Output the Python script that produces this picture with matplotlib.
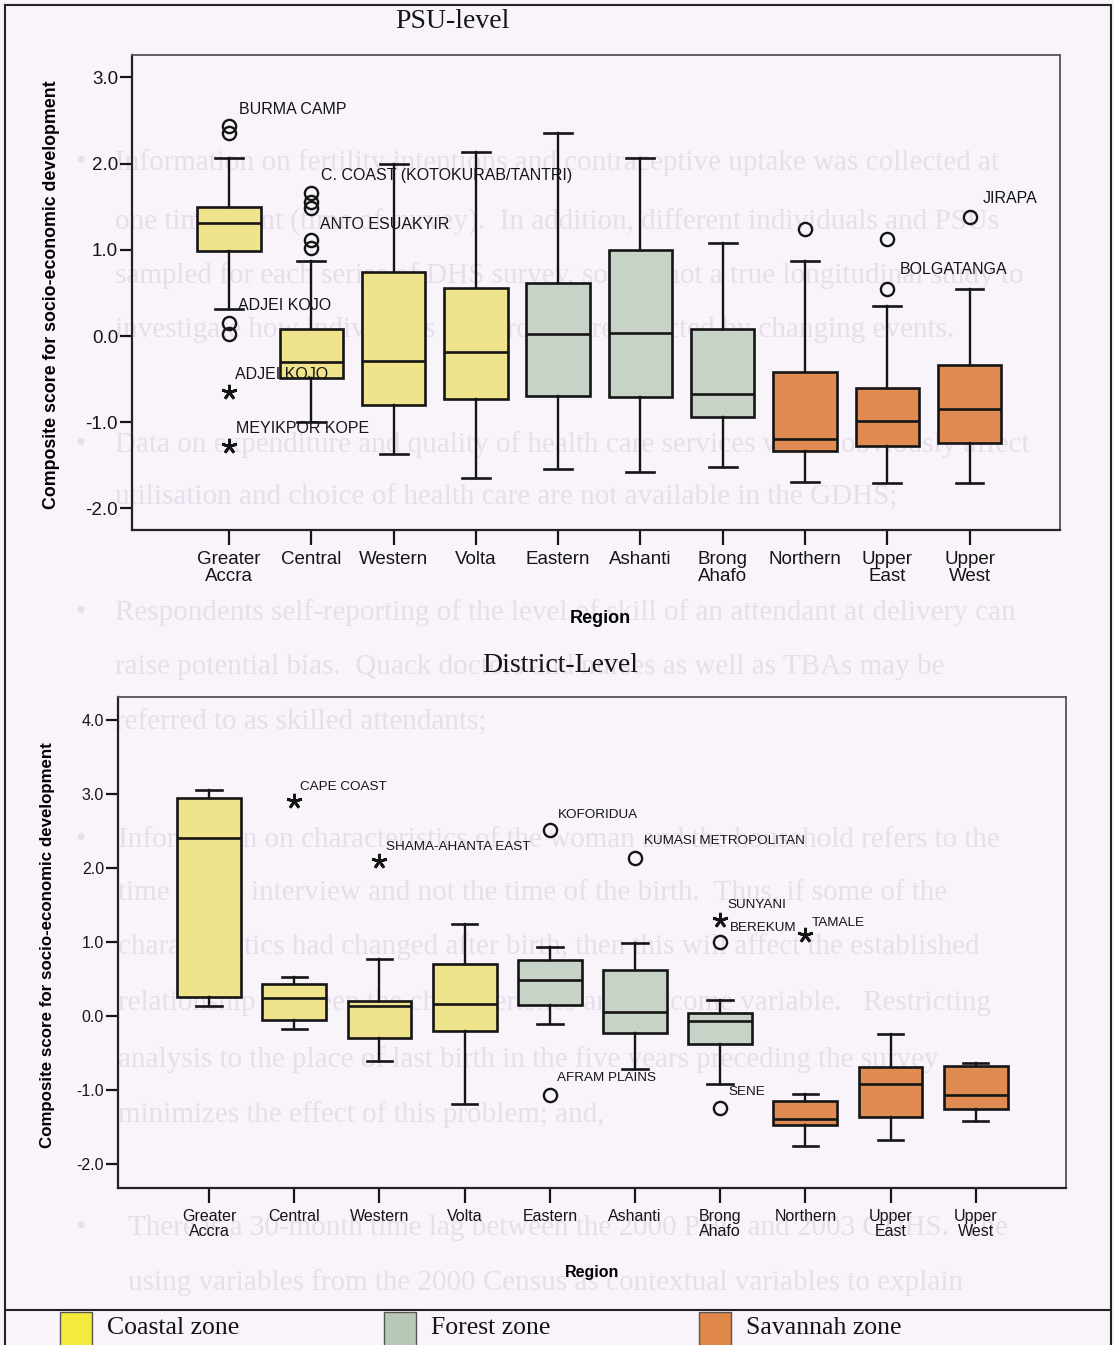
"""
Box plots of the composite socio-economic development score by region,
at PSU level and at district level, coloured by ecological zone.
"""

import matplotlib
matplotlib.use('Agg')
import matplotlib.pyplot as plt
from matplotlib.patches import Rectangle

regions = ['Greater\nAccra', 'Central', 'Western', 'Volta', 'Eastern', 'Ashanti',
           'Brong\nAhafo', 'Northern', 'Upper\nEast', 'Upper\nWest']
zones = ['Coastal', 'Coastal', 'Coastal', 'Coastal', 'Forest', 'Forest', 'Forest',
         'Savannah', 'Savannah', 'Savannah']
zone_names = ['Coastal zone', 'Forest zone', 'Savannah zone']

# PSU-level summaries
psu_whislo = [0.31, -1.00, -1.37, -1.65, -1.54, -1.58, -1.52, -1.69, -1.70, -1.71]
psu_q1 = [0.99, -0.49, -0.80, -0.73, -0.69, -0.71, -0.94, -1.33, -1.27, -1.24]
psu_med = [1.31, -0.30, -0.29, -0.19, 0.02, 0.03, -0.67, -1.20, -0.98, -0.85]
psu_q3 = [1.50, 0.08, 0.74, 0.56, 0.62, 1.00, 0.08, -0.42, -0.60, -0.34]
psu_whishi = [2.07, 0.87, 1.99, 2.13, 2.36, 2.06, 1.08, 0.87, 0.35, 0.54]
# outliers: region index, value, kind (o = outlier, * = extreme)
psu_out_region = [0, 0, 0, 0, 0, 0, 1, 1, 1, 1, 1, 7, 8, 8, 9]
psu_out_value = [2.44, 2.36, 0.15, 0.02, -0.65, -1.27, 1.66, 1.56, 1.48, 1.11, 1.02,
                 1.24, 1.13, 0.55, 1.38]
psu_out_kind = ['o', 'o', 'o', 'o', '*', '*', 'o', 'o', 'o', 'o', 'o', 'o', 'o', 'o', 'o']
psu_labels = ['BURMA CAMP', 'C. COAST (KOTOKURAB/TANTRI)', 'ANTO ESUAKYIR', 'ADJEI KOJO',
              'ADJEI KOJO', 'MEYIKPOR KOPE', 'JIRAPA', 'BOLGATANGA']
psu_label_x = [1.12, 2.12, 2.11, 1.11, 1.07, 1.09, 10.16, 9.15]
psu_label_y = [2.63, 1.86, 1.29, 0.35, -0.45, -1.07, 1.59, 0.77]

# District-level summaries
dist_whislo = [0.14, -0.17, -0.60, -1.19, -0.10, -0.71, -0.92, -1.75, -1.67, -1.41]
dist_q1 = [0.26, -0.05, -0.30, -0.20, 0.15, -0.23, -0.38, -1.47, -1.36, -1.25]
dist_med = [2.41, 0.24, 0.14, 0.17, 0.49, 0.05, -0.07, -1.39, -0.91, -1.06]
dist_q3 = [2.95, 0.43, 0.20, 0.70, 0.76, 0.62, 0.04, -1.14, -0.68, -0.67]
dist_whishi = [3.06, 0.53, 0.77, 1.25, 0.94, 0.99, 0.22, -1.05, -0.24, -0.63]
dist_out_region = [1, 2, 4, 4, 5, 6, 6, 6, 7]
dist_out_value = [2.91, 2.10, 2.51, -1.06, 2.14, 1.30, 1.00, -1.24, 1.09]
dist_out_kind = ['*', '*', 'o', 'o', 'o', '*', 'o', 'o', '*']
dist_labels = ['CAPE COAST', 'SHAMA-AHANTA EAST', 'KOFORIDUA', 'KUMASI METROPOLITAN',
               'SUNYANI', 'BEREKUM', 'TAMALE', 'AFRAM PLAINS', 'SENE']
dist_label_x = [2.07, 3.08, 5.10, 6.11, 7.08, 7.11, 8.08, 5.08, 7.10]
dist_label_y = [3.09, 2.28, 2.72, 2.36, 1.50, 1.19, 1.26, -0.84, -1.03]

box_colors = {'Coastal': '#efe38c', 'Forest': '#c7d3c6', 'Savannah': '#df8b52'}
legend_colors = ['#f4ea3e', '#b9c9b8', '#e0874a']
bg = '#f8f4fa'
ink = '#151515'

# faint bleed-through text from the page underneath
page_lines = [
    (75, 163, '\u2022'),
    (115, 163, 'Information on fertility intentions and contraceptive uptake was collected at'),
    (115, 222, 'one time point (time of survey).  In addition, different individuals and PSUs'),
    (115, 276, 'sampled for each series of DHS survey, so it is not a true longitudinal study to'),
    (115, 330, 'investigate how individuals and groups are affected by changing events.'),
    (75, 445, '\u2022'),
    (115, 445, 'Data on expenditure and quality of health care services which obviously affect'),
    (115, 498, 'utilisation and choice of health care are not available in the GDHS;'),
    (75, 613, '\u2022'),
    (115, 613, 'Respondents self-reporting of the level of skill of an attendant at delivery can'),
    (115, 667, 'raise potential bias.  Quack doctors and nurses as well as TBAs may be'),
    (115, 723, 'referred to as skilled attendants;'),
    (75, 840, '\u2022'),
    (118, 840, 'Information on characteristics of the woman and the household refers to the'),
    (118, 893, 'time of the interview and not the time of the birth.  Thus, if some of the'),
    (118, 947, 'characteristics had changed after birth, then this will affect the established'),
    (118, 1003, 'relationship between the characteristics and outcome variable.   Restricting'),
    (118, 1060, 'analysis to the place of last birth in the five years preceding the survey'),
    (118, 1115, 'minimizes the effect of this problem; and,'),
    (75, 1228, '\u2022'),
    (128, 1228, 'There is a 30-month time lag between the 2000 PHC and 2003 GDHS.  The'),
    (128, 1283, 'using variables from the 2000 Census as contextual variables to explain'),
]

W, H = 1114, 1345
fig = plt.figure(figsize=(W / 100, H / 100), dpi=100, facecolor=bg)

# page layer in pixel coordinates
page = fig.add_axes([0, 0, 1, 1], zorder=-1)
page.set_xlim(0, W)
page.set_ylim(H, 0)
page.axis('off')
for x, y, s in page_lines:
    page.text(x, y, s, fontsize=21, family='Liberation Serif', color='#e6deeb',
              va='center', ha='left', clip_on=True)


def draw_panel(rect, whislo, q1, med, q3, whishi, out_region, out_value, out_kind,
               labels, label_x, label_y, ylim, yticks, xlim, width, capw,
               tick_fs, label_fs, ylab_fs, xlab_fs):
    ax = fig.add_axes(rect)
    ax.set_facecolor('none')
    stats = []
    for i in range(len(regions)):
        stats.append({'whislo': whislo[i], 'q1': q1[i], 'med': med[i], 'q3': q3[i],
                      'whishi': whishi[i], 'fliers': []})
    positions = list(range(1, len(regions) + 1))
    parts = ax.bxp(stats, positions=positions, widths=width, capwidths=capw,
                   patch_artist=True, showfliers=False,
                   boxprops=dict(linewidth=1.9, edgecolor=ink),
                   medianprops=dict(color=ink, linewidth=1.9),
                   whiskerprops=dict(color=ink, linewidth=1.7),
                   capprops=dict(color=ink, linewidth=1.9))
    for patch, zone in zip(parts['boxes'], zones):
        patch.set_facecolor(box_colors[zone])
    for r, v, k in zip(out_region, out_value, out_kind):
        if k == 'o':
            ax.plot(positions[r], v, marker='o', ms=9.5, mfc='none', mec=ink, mew=1.7,
                    ls='none', zorder=4)
        else:
            ax.plot(positions[r], v, marker=(5, 2, 0), ms=11, color=ink, mew=2.0,
                    ls='none', zorder=4)
    for s, x, y in zip(labels, label_x, label_y):
        ax.text(x, y, s, fontsize=label_fs, family='Liberation Sans', color=ink,
                va='center', ha='left')
    ax.set_xlim(*xlim)
    ax.set_ylim(*ylim)
    ax.set_yticks(yticks)
    ax.set_yticklabels(['%.1f' % t for t in yticks])
    ax.set_xticks(positions)
    ax.set_xticklabels(regions, linespacing=1.0)
    for lab in ax.get_xticklabels() + ax.get_yticklabels():
        lab.set_family('Liberation Sans')
        lab.set_fontsize(tick_fs)
        lab.set_color(ink)
    ax.tick_params(axis='y', length=9, width=1.6, pad=1, color=ink)
    ax.tick_params(axis='x', length=11, width=1.6, pad=4, color=ink)
    for side in ['left', 'bottom']:
        ax.spines[side].set_linewidth(1.6)
        ax.spines[side].set_color('#222222')
    for side in ['top', 'right']:
        ax.spines[side].set_linewidth(1.3)
        ax.spines[side].set_color('#555555')
    ax.set_ylabel('Composite score for socio-economic development', fontsize=ylab_fs,
                  fontweight='bold', family='Liberation Sans', labelpad=8)
    ax.set_xlabel('Region', fontsize=xlab_fs, fontweight='bold',
                  family='Liberation Sans', labelpad=10)
    return ax


ax1 = draw_panel([132 / W, 1 - 530 / H, 928 / W, 475 / H],
                 psu_whislo, psu_q1, psu_med, psu_q3, psu_whishi,
                 psu_out_region, psu_out_value, psu_out_kind,
                 psu_labels, psu_label_x, psu_label_y,
                 ylim=(-2.25, 3.26), yticks=[-2.0, -1.0, 0.0, 1.0, 2.0, 3.0],
                 xlim=(-0.18, 11.1), width=0.77, capw=0.34,
                 tick_fs=13.5, label_fs=11.5, ylab_fs=12.8, xlab_fs=13)
ax1.xaxis.set_label_coords((600 - 132) / 928, -(610 - 530) / 475)
ax1.yaxis.set_label_coords(-(132 - 60) / 928, (530 - 295) / 475)

ax2 = draw_panel([118 / W, 1 - 1188 / H, 948 / W, 491 / H],
                 dist_whislo, dist_q1, dist_med, dist_q3, dist_whishi,
                 dist_out_region, dist_out_value, dist_out_kind,
                 dist_labels, dist_label_x, dist_label_y,
                 ylim=(-2.32, 4.31), yticks=[-2.0, -1.0, 0.0, 1.0, 2.0, 3.0, 4.0],
                 xlim=(-0.07, 11.06), width=0.75, capw=0.3,
                 tick_fs=11.5, label_fs=9.7, ylab_fs=12.2, xlab_fs=11.5)
ax2.xaxis.set_label_coords((592 - 118) / 948, -(1265 - 1188) / 491)
ax2.yaxis.set_label_coords(-(118 - 55) / 948, (1188 - 945) / 491)

# panel titles
page.text(452, 22, 'PSU-level', fontsize=20, family='Liberation Serif', color=ink,
          ha='center', va='center')
page.text(560, 665, 'District-Level', fontsize=20, family='Liberation Serif', color=ink,
          ha='center', va='center')

# page frame and legend row
page.plot([5, 5], [5, H], color='#222222', lw=1.5)
page.plot([5, 1111], [5, 5], color='#222222', lw=1.5)
page.plot([1111, 1111], [5, H], color='#222222', lw=1.5)
page.plot([5, 1111], [1310, 1310], color='#222222', lw=1.5)
for x0, col, name in zip([60, 384, 699], legend_colors, zone_names):
    page.add_patch(Rectangle((x0, 1312), 32, 40, facecolor=col, edgecolor='#555555', lw=1))
    page.text(x0 + 47, 1328, name, fontsize=18.5, family='Liberation Serif', color=ink,
              ha='left', va='center')

plt.savefig('out.png', dpi=100, facecolor=bg)
